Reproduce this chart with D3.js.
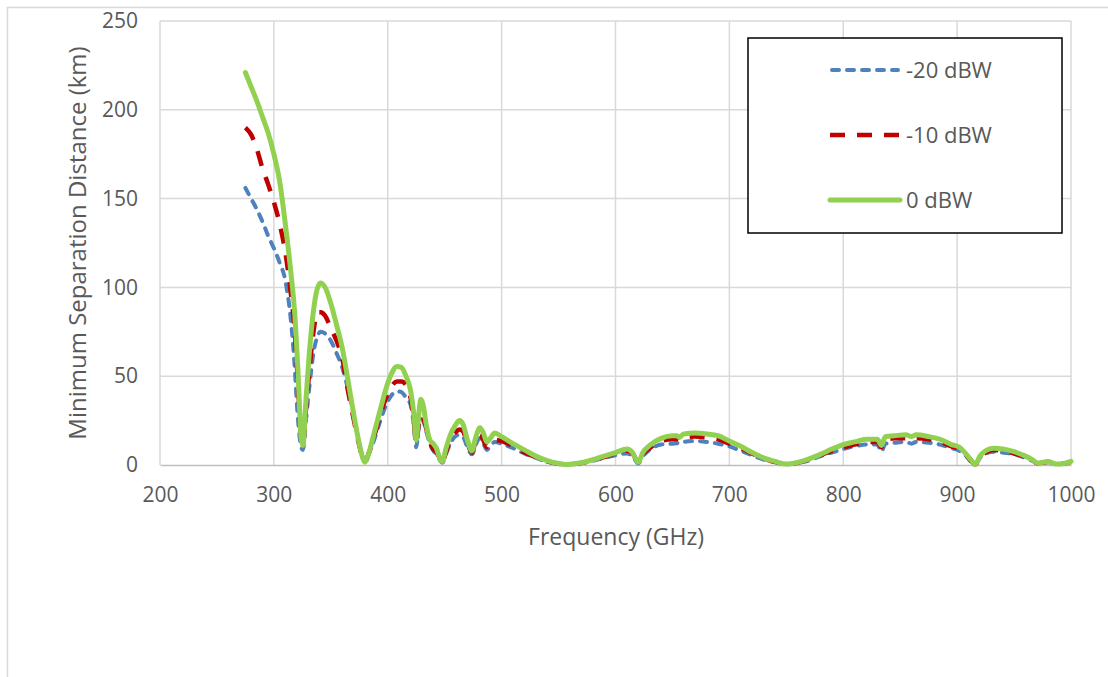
<!DOCTYPE html>
<html>
<head>
<meta charset="utf-8">
<script src="https://cdn.jsdelivr.net/npm/d3@7"></script>
<style>
  html, body { margin: 0; padding: 0; background: #fff; }
  svg { display: block; }
  text { font-family: "Open Sans", "Liberation Sans", sans-serif; fill: #595959; }
</style>
</head>
<body>
<svg id="chart" width="1108" height="677"></svg>
<script>
// ---- Data ----
const freq = [275, 280, 285, 290, 295, 300, 305, 310, 315, 318, 321, 324, 325.5, 328, 331, 335, 338, 341, 345, 350,
  355, 360, 365, 370, 375, 378, 380, 383, 388, 393, 398, 403, 408, 412, 416, 420, 423, 425, 427, 429,
  431, 434, 437, 440, 443, 445.5, 448, 451, 455, 459, 463, 466, 470, 474, 477, 481, 484, 487, 490, 494,
  500, 510, 520, 530, 540, 550, 557, 565, 575, 590, 600, 610, 615, 620, 624, 630, 640, 650, 654, 656,
  660, 670, 680, 690, 700, 710, 720, 730, 740, 750, 760, 770, 780, 790, 800, 810, 820, 830, 833.5, 837,
  845, 855, 860, 864, 875, 885, 895, 902, 908, 912, 916, 920, 925, 932, 940, 950, 960, 966, 971, 975,
  980, 987, 995, 1000];

const dBW0 = [221, 213, 205, 196, 187, 175, 160, 136, 108, 88, 55, 15, 11, 35, 62, 88, 99, 102.5, 100, 91,
  79, 66, 48, 29, 12, 4, 1.5, 6, 18, 30, 42, 51, 55.5, 55, 50, 42, 28, 14, 27, 37,
  34, 22, 14, 12, 9, 4, 2, 9, 17, 22, 25, 23, 14, 8, 15, 21, 18, 13, 15, 18,
  16, 12, 8.5, 5, 2.5, 0.8, 0.3, 0.8, 2, 5, 7, 9, 7, 1.5, 7, 11, 15, 16.5, 16.5, 15.5,
  17.5, 18, 17.5, 16.5, 13.5, 10.5, 7, 4, 2, 0.5, 1.5, 3.5, 6, 9, 11.5, 13, 14.5, 14.5, 11, 16,
  16.5, 17, 16, 17, 16, 14.5, 11.5, 10, 6, 3, 0.3, 5, 8, 9.5, 9, 7.5, 5, 3, 1, 1.5,
  2, 0.5, 1, 2];

const dBWm10 = [190, 186, 178, 167, 158, 148, 136, 120, 96, 78, 48, 15, 12, 30, 52, 76, 86, 86, 84, 77,
  70, 60, 42, 26, 11, 4, 1.5, 6, 16, 27, 37, 44, 47, 47, 45, 38, 24, 12, 22, 28,
  27, 20, 13, 9, 7, 3.5, 1.5, 7, 14, 18, 20, 19, 12, 7, 13, 17, 14, 10, 12, 14,
  13.5, 10.5, 7, 4.5, 2, 0.7, 0.3, 0.7, 1.8, 4.5, 6.5, 8, 6.5, 1.3, 6, 9.5, 13.5, 14.5, 14.5, 14,
  15.5, 16, 15.5, 14.5, 12, 9.5, 6.5, 3.5, 1.8, 0.5, 1.3, 3, 5.5, 8, 10, 11.5, 13, 13, 10, 14,
  15, 15, 14, 15, 14.5, 13, 10.5, 9, 5.5, 2.5, 0.3, 4.5, 7, 8.5, 8, 6.5, 4.5, 2.5, 1, 1.3,
  1.8, 0.5, 1, 1.8];

const dBWm20 = [156, 150, 144, 137, 129, 122, 114, 104, 81, 58, 27, 10, 8.5, 24, 43, 64, 72, 75, 74, 70,
  63, 55, 43, 28, 12, 4, 1.5, 6, 14, 24, 33, 39, 41.5, 41, 38, 34, 22, 10, 20, 26,
  25, 18.5, 12, 8, 6, 3, 1.2, 6, 12, 16, 17, 16, 10, 6, 11, 15, 12, 8.5, 10.5, 13,
  12, 9.5, 6.5, 4, 1.8, 0.6, 0.3, 0.6, 1.6, 4, 5.5, 6.5, 5, 0.8, 5, 8.5, 11.5, 12, 12.3, 12,
  13, 13.5, 13, 12, 10.5, 8, 5.5, 3, 1.5, 0.4, 1.2, 2.5, 5, 7, 9, 10.5, 11.5, 11.5, 7.5, 12,
  12.5, 13, 12, 13, 12.5, 11.5, 9.5, 8, 5, 2, 0.3, 4, 6.5, 7.5, 7, 6, 4, 2.3, 0.8, 1.2,
  1.5, 0.4, 0.9, 1.5];

const xTicks = [200, 300, 400, 500, 600, 700, 800, 900, 1000];
const yTicks = [0, 50, 100, 150, 200, 250];
const seriesNames = ["-20 dBW", "-10 dBW", "0 dBW"];

// ---- Chart ----
const svg = d3.select("#chart");
const x = d3.scaleLinear().domain([200, 1000]).range([160, 1071]);
const y = d3.scaleLinear().domain([0, 250]).range([465, 21]);
const fontFam = "Open Sans, Liberation Sans, sans-serif";

// outer frame
svg.append("rect").attr("x", 7.5).attr("y", 7.5).attr("width", 1200).attr("height", 800)
  .attr("fill", "none").attr("stroke", "#d9d9d9").attr("stroke-width", 1.5);

// gridlines
const grid = svg.append("g");
grid.selectAll("line.h").data(yTicks.filter(d => d > 0)).join("line")
  .attr("x1", x(200)).attr("x2", x(1000)).attr("y1", d => y(d)).attr("y2", d => y(d))
  .attr("stroke", "#d9d9d9").attr("stroke-width", 1.5);
grid.selectAll("line.v").data(xTicks).join("line")
  .attr("x1", d => x(d)).attr("x2", d => x(d)).attr("y1", y(250)).attr("y2", y(0))
  .attr("stroke", "#d9d9d9").attr("stroke-width", 1.5);

// x axis
const xAxis = svg.append("g").attr("transform", `translate(0,${y(0)})`)
  .call(d3.axisBottom(x).tickValues(xTicks).tickFormat(d3.format("d")).tickSize(0).tickPadding(22));
xAxis.select(".domain").attr("stroke", "#bfbfbf").attr("stroke-width", 1.5);
xAxis.selectAll("text").attr("font-size", 21).attr("fill", "#595959").attr("font-family", fontFam);

// y axis
const yAxis = svg.append("g").attr("transform", `translate(${x(200)},0)`)
  .call(d3.axisLeft(y).tickValues(yTicks).tickSize(0).tickPadding(22));
yAxis.select(".domain").remove();
yAxis.selectAll("text").attr("font-size", 21).attr("fill", "#595959").attr("font-family", fontFam);

// axis titles
svg.append("text").attr("x", 616).attr("y", 545).attr("text-anchor", "middle")
  .attr("font-size", 23).text("Frequency (GHz)");
svg.append("text").attr("transform", "translate(86,243) rotate(-90)").attr("text-anchor", "middle")
  .attr("font-size", 24).text("Minimum Separation Distance (km)");

// lines
const styles = [
  { data: dBWm20, color: "#4f81bd", width: 4, dash: "7,8", cap: "round" },
  { data: dBWm10, color: "#c00000", width: 4.5, dash: "15,12", cap: "butt" },
  { data: dBW0, color: "#92d050", width: 5, dash: null, cap: "round" }
];
const line = d3.line().x(d => x(d[0])).y(d => y(d[1])).curve(d3.curveMonotoneX);
styles.forEach(s => {
  svg.append("path")
    .datum(freq.map((f, i) => [f, s.data[i]]))
    .attr("fill", "none").attr("stroke", s.color).attr("stroke-width", s.width)
    .attr("stroke-dasharray", s.dash).attr("stroke-linejoin", "round").attr("stroke-linecap", s.cap)
    .attr("d", line);
});

// legend
const lg = svg.append("g");
lg.append("rect").attr("x", 748).attr("y", 38).attr("width", 314).attr("height", 195)
  .attr("fill", "#fff").attr("stroke", "#000").attr("stroke-width", 1.5);
const ly = [70, 135, 200];
styles.forEach((s, i) => {
  lg.append("line").attr("x1", i === 0 ? 832 : 830).attr("x2", i === 0 ? 898 : 900)
    .attr("y1", ly[i]).attr("y2", ly[i])
    .attr("stroke", s.color).attr("stroke-width", s.width).attr("stroke-dasharray", s.dash)
    .attr("stroke-linecap", s.cap);
  lg.append("text").attr("x", 906).attr("y", ly[i]).attr("dy", "0.35em")
    .attr("font-size", 22).text(seriesNames[i]);
});
</script>
</body>
</html>
